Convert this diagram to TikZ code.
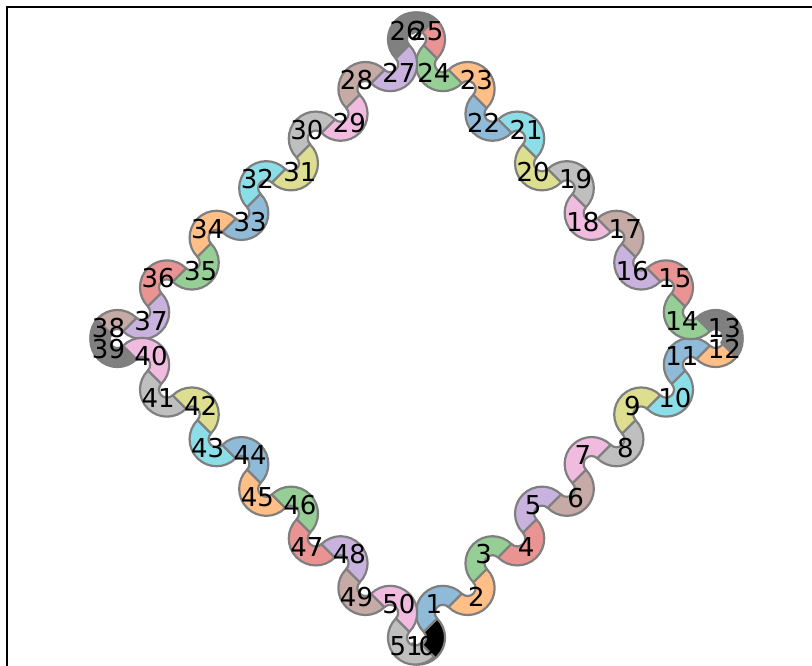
\documentclass[tikz,border=0pt]{standalone}
\usepackage{fontspec}
\setmainfont{DejaVu Sans}
\usetikzlibrary{calc}
\definecolor{c0}{HTML}{8FBBD9}
\definecolor{c1}{HTML}{FFBF86}
\definecolor{c2}{HTML}{95CF95}
\definecolor{c3}{HTML}{EA9393}
\definecolor{c4}{HTML}{C9B3DE}
\definecolor{c5}{HTML}{C5AAA5}
\definecolor{c6}{HTML}{F1BBE0}
\definecolor{c7}{HTML}{BFBFBF}
\definecolor{c8}{HTML}{DDDE90}
\definecolor{c9}{HTML}{8BDEE7}
\definecolor{cornergray}{HTML}{808080}
\definecolor{edgegray}{HTML}{7F7F7F}
\tikzset{
  piece/.style={draw=edgegray, line width=2.2pt, line join=round},
  numlabel/.style={font=\fontsize{26}{26}\selectfont, inner sep=0pt, text=black},
  frameline/.style={line width=1.6pt, draw=black}
}
\begin{document}
\begin{tikzpicture}[x=1pt,y=1pt]
\useasboundingbox (0,0) rectangle (812,-666);
\coordinate (F1) at (7,-666);
\coordinate (F2) at (7,-7);
\coordinate (F3) at (812,-7);
\draw[frameline] (F1) -- (F2) -- (F3);
\foreach \k in {0,...,51}{
  \pgfmathtruncatemacro{\myE}{floor(\k/13)}
  \pgfmathtruncatemacro{\myJ}{mod(\k,13)}
  \pgfmathsetmacro{\myPhi}{90*\myE}
  \pgfmathsetmacro{\myT}{(\myJ-6)*35.07}
  \pgfmathsetmacro{\myB}{mod(\myJ,2)==0 ? -45+\myPhi : 135+\myPhi}
  \pgfmathsetmacro{\aS}{\myB-90}
  \pgfmathsetmacro{\aE}{\myB+90}
  \pgfmathsetmacro{\cx}{416.5+212.6*cos(-45+\myPhi)+\myT*cos(45+\myPhi)}
  \pgfmathsetmacro{\cy}{-338.5+212.6*sin(-45+\myPhi)+\myT*sin(45+\myPhi)}
  \coordinate (C\k) at (\cx,\cy);
  \ifnum\k=0
    \colorlet{piecefill}{black}
  \else
    \ifnum\myJ=0
      \colorlet{piecefill}{cornergray}
    \else
      \pgfmathtruncatemacro{\ci}{mod(\k-1-\myE,10)}
      \colorlet{piecefill}{c\ci}
    \fi
  \fi
  \filldraw[piece, fill=piecefill]
    ($(C\k)+(\aS:27pt)$) arc[start angle=\aS, end angle=\aE, radius=27pt]
    -- ($(C\k)+(\aE:8pt)$) arc[start angle=\aE, end angle=\aS, radius=8pt]
    -- cycle;
}
\foreach \k in {0,...,51}{
  \pgfmathtruncatemacro{\myE}{floor(\k/13)}
  \pgfmathtruncatemacro{\myJ}{mod(\k,13)}
  \pgfmathsetmacro{\myPhi}{90*\myE}
  \pgfmathsetmacro{\myB}{mod(\myJ,2)==0 ? -45+\myPhi : 135+\myPhi}
  \node[numlabel] (L\k) at ($(C\k)+(\myB:12.5pt)$) {\k};
}
\end{tikzpicture}
\end{document}
